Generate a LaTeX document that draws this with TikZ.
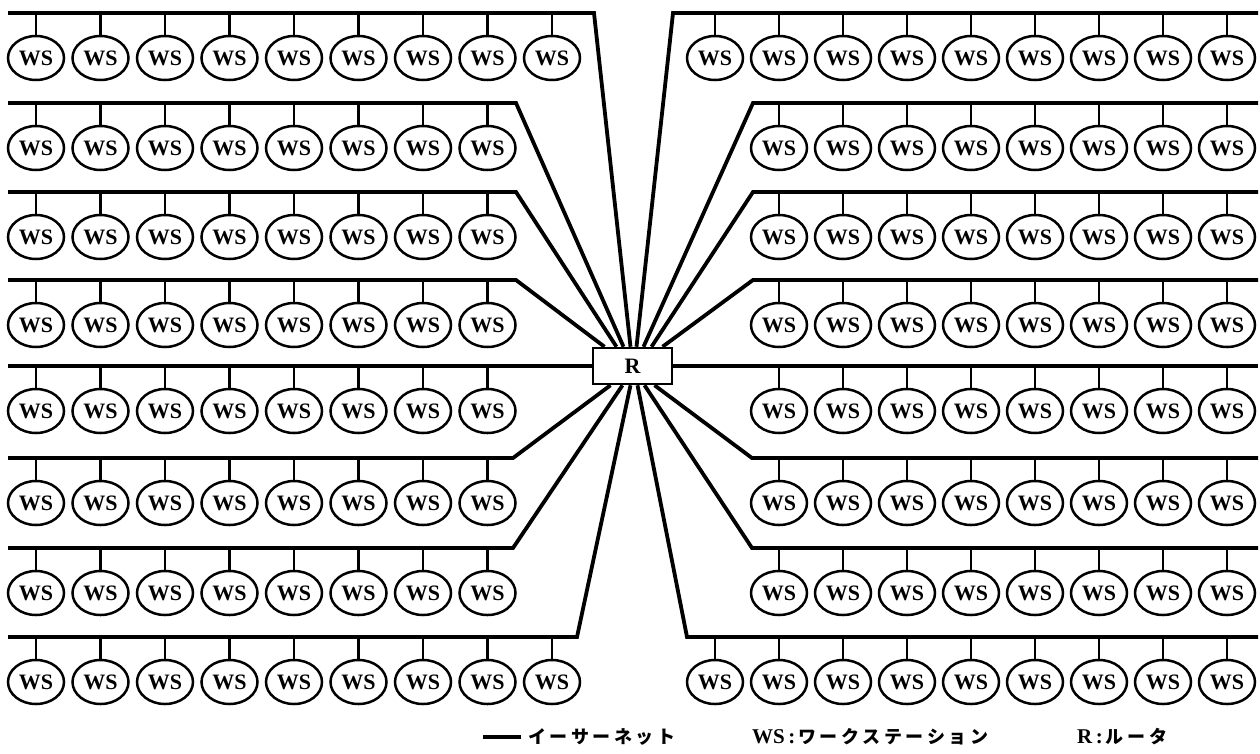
\documentclass[tikz,border=0pt]{standalone}
\usepackage{fontspec}
\setmainfont{Liberation Serif}
\newfontfamily\jpfont{Noto Sans CJK JP}[LetterSpace=20]
\usetikzlibrary{shapes.geometric}

\begin{document}
\begin{tikzpicture}[x=1pt, y=-1pt,
  ws/.style={draw, ellipse, line width=2.5pt, minimum width=56pt,
             minimum height=44pt, inner sep=0pt,
             font=\fontsize{22}{22}\selectfont\bfseries},
  router/.style={draw, rectangle, line width=2.5pt, minimum width=79pt,
                 minimum height=36pt, inner sep=0pt,
                 font=\fontsize{22}{22}\selectfont\bfseries},
  bus/.style={line width=3.8pt, line join=miter},
  stub/.style={line width=2.3pt},
  legend/.style={anchor=west, inner sep=0pt,
                 font=\fontsize{18}{18}\selectfont\bfseries}
]
  \useasboundingbox (0,0) rectangle (1260,753);

  \node[router] (R) at (632.5,366) {R};

  % workstations, row by row: row / bus y / count
  \foreach \r/\y/\n in {1/13/9, 2/103/8, 3/192/8, 4/280/8,
                        5/366/8, 6/458/8, 7/548/8, 8/637/9} {
    \coordinate (Ls\r) at (8,\y);
    \coordinate (Rs\r) at (1258,\y);
    \foreach \i in {1,...,\n} {
      \node[ws] (wsL\r-\i) at ({36+64.5*(\i-1)},{\y+45}) {WS};
      \node[ws] (wsR\r-\i) at ({1227-64*(\i-1)},{\y+45}) {WS};
      \draw[stub] (wsL\r-\i.north) -- (wsL\r-\i.north |- Ls\r);
      \draw[stub] (wsR\r-\i.north) -- (wsR\r-\i.north |- Rs\r);
    }
  }

  % ethernet buses above the router
  \foreach \r/\y/\lb/\ld/\rb/\rd in {1/13/594/-2/673/4, 2/103/516/-9/753/11,
                                      3/192/516/-16/753/19, 4/280/516/-28/753/30} {
    \coordinate (Lb\r) at (\lb,\y);
    \coordinate (Rb\r) at (\rb,\y);
    \draw[bus] (Ls\r) -- (Lb\r) -- ([xshift=\ld pt]R.north);
    \draw[bus] (Rs\r) -- (Rb\r) -- ([xshift=\rd pt]R.north);
  }
  % straight through the router
  \draw[bus] (Ls5) -- (R.west);
  \draw[bus] (Rs5) -- (R.east);
  % ethernet buses below the router
  \foreach \r/\y/\lb/\ld/\rb/\rd in {6/458/513/-22/752/22, 7/548/513/-10/752/12,
                                      8/637/577/-2/687/5} {
    \coordinate (Lb\r) at (\lb,\y);
    \coordinate (Rb\r) at (\rb,\y);
    \draw[bus] (Ls\r) -- (Lb\r) -- ([xshift=\ld pt]R.south);
    \draw[bus] (Rs\r) -- (Rb\r) -- ([xshift=\rd pt]R.south);
  }

  % legend
  \coordinate (legA) at (483,737);
  \coordinate (legB) at (521,737);
  \draw[bus] (legA) -- (legB);
  \node[legend] (legEth) at (528,737) {\jpfont イーサーネット};
  \node[legend] (legWS)  at (752,737) {{\fontsize{21}{21}\selectfont WS\,:}\,\jpfont ワークステーション};
  \node[legend] (legR)   at (1077,737) {{\fontsize{21}{21}\selectfont R\,:}\,\jpfont ルータ};
\end{tikzpicture}
\end{document}
